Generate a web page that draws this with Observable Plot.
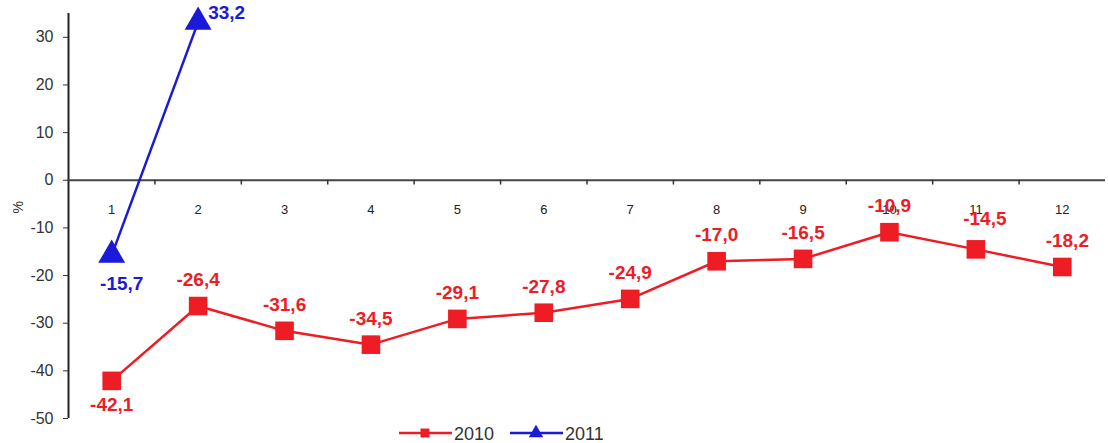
<!DOCTYPE html>
<html><head><meta charset="utf-8">
<script src="https://cdn.jsdelivr.net/npm/d3@7"></script>
<script src="https://cdn.jsdelivr.net/npm/@observablehq/plot@0.6"></script>
<style>
body{margin:0;background:#fff;font-family:Arial,"Liberation Sans",sans-serif;}
#legend{height:20px;position:relative;}
</style></head><body>
<div id="chart"></div>
<div id="legend"></div>
<script>
const months = [1,2,3,4,5,6,7,8,9,10,11,12];
const values2010 = [-42.1,-26.4,-31.6,-34.5,-29.1,-27.8,-24.9,-17.0,-16.5,-10.9,-14.5,-18.2];
const months2011 = [1,2];
const values2011 = [-15.7,33.2];
const yTicks = [-50,-40,-30,-20,-10,0,10,20,30];
const seriesNames = ["2010","2011"];
const red = "#ee1c24", blue = "#1a1ad8";

const d2010 = months.map((m,i)=>({m, v: values2010[i], i}));
const d2011 = months2011.map((m,i)=>({m, v: values2011[i], i}));
const fmt = v => v.toFixed(1).replace(".", ",");
const between = months.slice(0,-1).map(m=>m+0.5);
const lblRed = {x: "m", y: "v", text: d=>fmt(d.v), fontSize: 19, fontWeight: "bold", fill: red, letterSpacing: 0.8};
const lblBlue = {x: "m", y: "v", text: d=>fmt(d.v), fontSize: 19, fontWeight: "bold", fill: blue, letterSpacing: 0.8};

const chart = Plot.plot({
  width: 1108, height: 423,
  marginLeft: 68, marginRight: 3, marginTop: 13, marginBottom: 5,
  x: {domain: [0.5, 12.5], axis: null},
  y: {domain: [-50, 35], axis: null},
  style: {fontFamily: "Arial, 'Liberation Sans', sans-serif", background: "#fff", overflow: "visible"},
  marks: [
    Plot.axisY({ticks: yTicks, anchor: "left", tickSize: 5, tickPadding: 10, fontSize: 16, color: "#333", tickFormat: d=>String(d), label: null}),
    Plot.ruleX([0.5], {y1: -50, y2: 35, stroke: "#222", strokeWidth: 2}),
    Plot.ruleY([0], {x1: 0.5, x2: 12.5, stroke: "#444", strokeWidth: 2}),
    Plot.ruleX(between, {x: d=>d, y1: 0, y2: -1, stroke: "#333", strokeWidth: 1.5}),
    Plot.text(months, {x: d=>d, y: 0, text: d=>String(d), dy: 30, fontSize: 13, fill: "#222"}),
    Plot.text(["%"], {frameAnchor: "left", y: -7, text: d=>d, dx: -50, rotate: -90, fontSize: 14, fill: "#333"}),
    Plot.line(d2010, {x: "m", y: "v", stroke: red, strokeWidth: 2.5}),
    Plot.dot(d2010, {x: "m", y: "v", symbol: "square", r: 10.5, fill: red, stroke: null}),
    Plot.text(d2010, {...lblRed, filter: d=>d.i===0, dy: 24}),
    Plot.text(d2010, {...lblRed, filter: d=>d.i>=1 && d.i<=9, dy: -26}),
    Plot.text(d2010, {...lblRed, filter: d=>d.i===10, dy: -30, dx: 9}),
    Plot.text(d2010, {...lblRed, filter: d=>d.i===11, dy: -26, dx: 5}),
    Plot.line(d2011, {x: "m", y: "v", stroke: blue, strokeWidth: 2.5}),
    Plot.dot(d2011, {x: "m", y: "v", symbol: "triangle", r: 10, fill: blue, stroke: null}),
    Plot.text(d2011, {...lblBlue, filter: d=>d.i===0, dy: 29, dx: 10}),
    Plot.text(d2011, {...lblBlue, filter: d=>d.i===1, dy: -9, dx: 10, textAnchor: "start"})
  ]
});
document.getElementById("chart").appendChild(chart);

// legend
const lg = d3.select("#legend").append("svg").attr("width",1108).attr("height",20);
const items = [{name: seriesNames[0], color: red, sym: d3.symbolSquare, x: 399},
               {name: seriesNames[1], color: blue, sym: d3.symbolTriangle, x: 510}];
for (const it of items) {
  const g = lg.append("g").attr("transform", `translate(${it.x},10)`);
  g.append("line").attr("x1",0).attr("x2",53).attr("stroke",it.color).attr("stroke-width",2.5);
  g.append("path").attr("d", d3.symbol(it.sym, it.sym===d3.symbolSquare?80:90)()).attr("transform","translate(26,0)").attr("fill",it.color);
  g.append("text").attr("x",55).attr("y",7).attr("font-size",18).attr("fill","#333").text(it.name);
}
</script>
</body></html>
